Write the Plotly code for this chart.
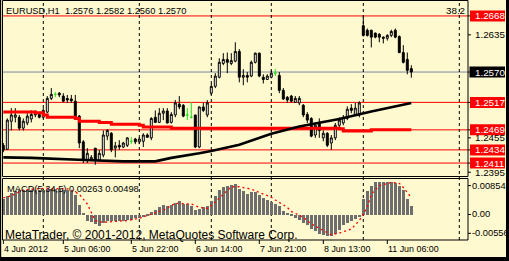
import plotly.graph_objects as go

W, H = 509, 261
BG = "#FFF9CF"
FONT = "Liberation Sans"

# ---------------- data ----------------
bars = list(range(103))
opens = [1.2442,1.2435,1.2484,1.2491,1.2491,1.2472,1.2481,1.2488,1.2495,1.2496,
         1.2491,1.2500,1.2524,1.2531,1.2533,1.2528,1.2524,1.2523,1.2519,1.2493,
         1.2448,1.2416,1.2416,1.2437,1.2416,1.2425,1.2458,1.2463,1.2437,1.2442,
         1.2439,1.2442,1.2449,1.2453,1.2448,1.2449,1.2460,1.2455,1.2491,1.2482,
         1.2498,1.2502,1.2482,1.2495,1.2514,1.2512,1.2495,1.2491,1.2495,1.2439,
         1.2509,1.2495,1.2533,1.2545,1.2561,1.2585,1.2592,1.2585,1.2589,1.2606,
         1.2561,1.2564,1.2563,1.2587,1.2603,1.2561,1.2557,1.2561,1.2568,1.2564,
         1.2538,1.2526,1.2528,1.2517,1.2516,1.2512,1.2496,1.2489,1.2460,1.2481,
         1.2455,1.2463,1.2446,1.2455,1.2477,1.2481,1.2489,1.2507,1.2495,1.2495,
         1.2651,1.2643,1.2643,1.2638,1.2636,1.2631,1.2629,1.2634,1.2643,1.2632,
         1.2604,1.2592,1.2576]
highs = [1.2446,1.2489,1.2507,1.2507,1.2495,1.2489,1.2498,1.2503,1.2503,1.2498,
         1.2507,1.2528,1.2542,1.2535,1.2535,1.2533,1.2530,1.2530,1.2530,1.2495,
         1.2451,1.2437,1.2425,1.2437,1.2434,1.2468,1.2470,1.2465,1.2448,1.2451,
         1.2448,1.2456,1.2456,1.2455,1.2456,1.2463,1.2463,1.2491,1.2503,1.2507,
         1.2507,1.2507,1.2500,1.2521,1.2528,1.2514,1.2507,1.2517,1.2495,1.2510,
         1.2516,1.2521,1.2550,1.2568,1.2594,1.2603,1.2604,1.2603,1.2622,1.2610,
         1.2575,1.2570,1.2590,1.2604,1.2604,1.2566,1.2566,1.2573,1.2575,1.2570,
         1.2542,1.2528,1.2530,1.2528,1.2528,1.2514,1.2500,1.2491,1.2482,1.2489,
         1.2468,1.2465,1.2460,1.2481,1.2491,1.2495,1.2510,1.2514,1.2516,1.2519,
         1.2669,1.2646,1.2644,1.2639,1.2638,1.2632,1.2636,1.2644,1.2646,1.2634,
         1.2617,1.2604,1.2582]
lows = [1.2430,1.2434,1.2468,1.2482,1.2468,1.2468,1.2477,1.2482,1.2491,1.2489,
        1.2489,1.2498,1.2521,1.2526,1.2526,1.2517,1.2516,1.2516,1.2489,1.2437,
        1.2411,1.2411,1.2415,1.2408,1.2413,1.2421,1.2451,1.2430,1.2421,1.2434,
        1.2437,1.2439,1.2444,1.2444,1.2444,1.2439,1.2455,1.2451,1.2481,1.2481,
        1.2486,1.2480,1.2480,1.2491,1.2505,1.2491,1.2486,1.2489,1.2437,1.2437,
        1.2500,1.2491,1.2530,1.2542,1.2559,1.2582,1.2568,1.2582,1.2587,1.2552,
        1.2547,1.2552,1.2561,1.2585,1.2561,1.2550,1.2556,1.2559,1.2563,1.2533,
        1.2521,1.2516,1.2517,1.2516,1.2512,1.2491,1.2481,1.2456,1.2455,1.2455,
        1.2449,1.2439,1.2434,1.2451,1.2474,1.2477,1.2486,1.2498,1.2493,1.2491,
        1.2632,1.2632,1.2613,1.2629,1.2622,1.2620,1.2625,1.2631,1.2629,1.2603,
        1.2585,1.2566,1.2560]
closes = [1.2434,1.2486,1.2495,1.2495,1.2472,1.2484,1.2493,1.2496,1.2498,1.2491,
          1.2503,1.2524,1.2531,1.2531,1.2530,1.2519,1.2521,1.2520,1.2491,1.2446,
          1.2416,1.2428,1.2421,1.2416,1.2428,1.2460,1.2468,1.2434,1.2441,1.2439,
          1.2446,1.2455,1.2449,1.2448,1.2453,1.2460,1.2456,1.2489,1.2482,1.2498,
          1.2502,1.2481,1.2496,1.2516,1.2509,1.2493,1.2495,1.2491,1.2439,1.2509,
          1.2503,1.2516,1.2545,1.2563,1.2587,1.2592,1.2587,1.2590,1.2606,1.2561,
          1.2564,1.2561,1.2587,1.2603,1.2563,1.2557,1.2563,1.2568,1.2568,1.2538,
          1.2523,1.2521,1.2519,1.2524,1.2524,1.2495,1.2486,1.2458,1.2477,1.2468,
          1.2463,1.2442,1.2455,1.2477,1.2486,1.2491,1.2505,1.2503,1.2507,1.2516,
          1.2634,1.2634,1.2631,1.2631,1.2631,1.2629,1.2634,1.2641,1.2631,1.2604,
          1.2587,1.2573,1.2570]
doji_bars = [13, 32, 46, 47, 68]

ma_red_x = [0, 8, 10, 11, 18, 19, 24, 27, 34, 35, 42, 84, 85, 91, 92, 102]
ma_red_y = [1.2500, 1.2499, 1.2495, 1.2491, 1.2489, 1.2484, 1.2482, 1.2479,
            1.2477, 1.2474, 1.2472, 1.2471, 1.2467, 1.2467, 1.2469, 1.2469]
ma_black_x = [0, 7, 22, 30, 38, 42, 49, 52, 59, 67, 74, 84, 92, 102]
ma_black_y = [1.2421, 1.2420, 1.2416, 1.2414, 1.2414, 1.2420, 1.2428, 1.2432,
              1.2443, 1.2462, 1.2475, 1.2488, 1.2501, 1.2516]

macd_hist = [0.0046,0.0055,0.0065,0.0072,0.0074,0.0075,0.0075,0.0075,0.0074,0.0074,
             0.0075,0.0076,0.0076,0.0076,0.0076,0.0075,0.0074,0.0068,0.0060,0.0029,
             0.0003,-0.0018,-0.0020,-0.0028,-0.0033,-0.0023,-0.0017,-0.0017,-0.0017,-0.0017,
             -0.0017,-0.0016,-0.0015,-0.0010,-0.0008,-0.0006,-0.0003,0.0009,0.0016,0.0023,
             0.0029,0.0027,0.0029,0.0036,0.0041,0.0033,0.0033,0.0026,0.0016,0.0018,
             0.0023,0.0026,0.0041,0.0055,0.0075,0.0082,0.0085,0.0088,0.0092,0.0078,
             0.0070,0.0062,0.0068,0.0068,0.0058,0.0051,0.0043,0.0039,0.0033,0.0026,
             0.0011,0.0003,-0.0003,-0.0008,-0.0016,-0.0023,-0.0030,-0.0040,-0.0048,-0.0055,
             -0.0059,-0.0062,-0.0062,-0.0055,-0.0045,-0.0030,-0.0024,-0.0018,-0.0013,-0.0006,
             0.0046,0.0070,0.0085,0.0098,0.0099,0.0098,0.0098,0.0098,0.0095,0.0085,
             0.0075,0.0046,0.0026]
signal_x = [0, 2, 5, 10, 16, 17, 19, 21, 22, 23, 25, 27, 31, 34, 37, 40, 43, 47, 49,
            51, 52, 55, 57, 59, 62, 64, 67, 68, 71, 72, 75, 77, 80, 82, 84, 87, 89,
            91, 92, 94, 97, 99, 100, 102]
signal_y = [0.0049, 0.0055, 0.0073, 0.0077, 0.0076, 0.0072, 0.0060, 0.0031, 0.0006,
            -0.0018, -0.0023, -0.0022, -0.0018, -0.0011, 0.0001, 0.0013, 0.0033, 0.0031,
            0.0021, 0.0018, 0.0026, 0.0060, 0.0082, 0.0082, 0.0075, 0.0065, 0.0051,
            0.0043, 0.0021, 0.0009, -0.0008, -0.0028, -0.0048, -0.0060, -0.0055,
            -0.0043, -0.0018, 0.0021, 0.0060, 0.0085, 0.0095, 0.0092, 0.0080, 0.0050]

red_levels = [1.2668, 1.2517, 1.2469, 1.2434, 1.2411]
red_level_text = ["1.2668", "1.2517", "1.2469", "1.2434", "1.2411"]
bid_level = 1.2570
bid_text = "1.2570"
price_ticks = [1.2635, 1.2455, 1.2395]
price_tick_text = ["1.2635", "1.2455", "1.2395"]
macd_ticks = [0.00854, 0.0, -0.00556]
macd_tick_text = ["0.00854", "0.00", "-0.00556"]
separators = [10, 34, 52, 67, 90, 114]
time_ticks = [0, 15, 32, 48, 64, 80, 96]
time_labels = ["4 Jun 2012", "5 Jun 06:00", "5 Jun 22:00", "6 Jun 14:00",
               "7 Jun 21:00", "8 Jun 13:00", "11 Jun 06:00"]
title_text = "EURUSD,H1\u00a0 1.2576 1.2582 1.2560 1.2570"
macd_label = "MACD(5,34,5) 0.00263 0.00498"
copyright_text = "MetaTrader, \u00a9 2001-2012, MetaQuotes Software Corp."
fib_text = "38.2"

# ---------------- layout geometry (pixels) ----------------
def px(x):
    return x / W

def py(y):
    return 1 - y / H

MAIN_TOP, MAIN_BOT = 0.5, 176.5
SUB_TOP, SUB_BOT = 178.5, 240.0
LEFT, RIGHT = 2.5, 468.0
P_TOP, P_BOT = 1.26950, 1.23875
P_PPU = (MAIN_BOT - MAIN_TOP) / (P_TOP - P_BOT)
M_TOP, M_BOT = 0.01064, -0.00754
X0 = (LEFT - 3.3) / 4
X1 = (RIGHT - 3.3) / 4

fig = go.Figure()

main_mask = [b not in doji_bars for b in bars]
fig.add_trace(go.Candlestick(
    x=[b for b, m in zip(bars, main_mask) if m],
    open=[v for v, m in zip(opens, main_mask) if m],
    high=[v for v, m in zip(highs, main_mask) if m],
    low=[v for v, m in zip(lows, main_mask) if m],
    close=[v for v, m in zip(closes, main_mask) if m],
    increasing=dict(line=dict(color="black", width=1), fillcolor="white"),
    decreasing=dict(line=dict(color="black", width=1), fillcolor="black"),
    whiskerwidth=0, showlegend=False, hoverinfo="skip", yaxis="y"))
fig.add_trace(go.Candlestick(
    x=doji_bars,
    open=[opens[b] for b in doji_bars],
    high=[highs[b] for b in doji_bars],
    low=[lows[b] for b in doji_bars],
    close=[closes[b] for b in doji_bars],
    increasing=dict(line=dict(color="#1EE01E", width=1), fillcolor="#1EE01E"),
    decreasing=dict(line=dict(color="#1EE01E", width=1), fillcolor="#1EE01E"),
    whiskerwidth=0, showlegend=False, hoverinfo="skip", yaxis="y"))

fig.add_trace(go.Scatter(x=ma_red_x, y=ma_red_y, mode="lines",
                         line=dict(color="#FF0000", width=3, shape="hv"),
                         showlegend=False, hoverinfo="skip", yaxis="y"))
fig.add_trace(go.Scatter(x=ma_black_x, y=ma_black_y, mode="lines",
                         line=dict(color="black", width=2.6),
                         showlegend=False, hoverinfo="skip", yaxis="y"))

fig.add_trace(go.Bar(x=bars, y=macd_hist, width=0.75,
                     marker=dict(color="#6E6E6E", line=dict(width=0)),
                     showlegend=False, hoverinfo="skip", yaxis="y2"))
fig.add_trace(go.Scatter(x=signal_x, y=signal_y, mode="lines",
                         line=dict(color="#FF0000", width=1.3, dash="2px,3px"),
                         showlegend=False, hoverinfo="skip", yaxis="y2"))

shapes = []
for lv in red_levels:
    shapes.append(dict(type="line", xref="paper", yref="y", x0=px(LEFT), x1=px(RIGHT),
                       y0=lv, y1=lv, line=dict(color="#FF0000", width=1), layer="below"))
shapes.append(dict(type="line", xref="paper", yref="y", x0=px(LEFT), x1=px(RIGHT),
                   y0=bid_level, y1=bid_level, line=dict(color="#7A8AA0", width=1), layer="below"))
for s in separators:
    shapes.append(dict(type="line", xref="x", yref="paper", x0=s, x1=s,
                       y0=py(SUB_BOT), y1=py(MAIN_TOP),
                       line=dict(color="black", width=1, dash="3px,3px"), layer="below"))
for (t, b) in [(MAIN_TOP, MAIN_BOT), (SUB_TOP, SUB_BOT)]:
    shapes.append(dict(type="rect", xref="paper", yref="paper", x0=px(LEFT), x1=px(RIGHT),
                       y0=py(b), y1=py(t), line=dict(color="black", width=1)))
for lv in price_ticks + red_levels + [bid_level]:
    shapes.append(dict(type="line", xref="paper", yref="y", x0=px(RIGHT), x1=px(RIGHT + 3),
                       y0=lv, y1=lv, line=dict(color="black", width=1)))
for lv in macd_ticks:
    shapes.append(dict(type="line", xref="paper", yref="y2", x0=px(RIGHT), x1=px(RIGHT + 3),
                       y0=lv, y1=lv, line=dict(color="black", width=1)))
for t in time_ticks:
    shapes.append(dict(type="line", xref="x", yref="paper", x0=t, x1=t,
                       y0=py(SUB_BOT + 4), y1=py(SUB_BOT), line=dict(color="black", width=1)))
half = 5.5 / P_PPU
for lv in red_levels:
    shapes.append(dict(type="rect", xref="paper", yref="y", x0=px(470), x1=px(505),
                       y0=lv - half, y1=lv + half, fillcolor="#FF0000", line=dict(width=0)))
shapes.append(dict(type="rect", xref="paper", yref="y", x0=px(469.5), x1=px(505),
                   y0=bid_level - half, y1=bid_level + half, fillcolor="black",
                   line=dict(width=0)))
shapes.append(dict(type="rect", xref="paper", yref="paper", x0=0, x1=px(1.2), y0=0, y1=1,
                   fillcolor="black", line=dict(width=0)))
shapes.append(dict(type="rect", xref="paper", yref="paper", x0=px(506), x1=1, y0=0, y1=1,
                   fillcolor="black", line=dict(width=0)))
shapes.append(dict(type="rect", xref="paper", yref="paper", x0=0, x1=1, y0=0, y1=py(257),
                   fillcolor="black", line=dict(width=0)))

def fnt(size, color="black"):
    return dict(family=FONT, size=size, color=color)

ann = []
for lv, tx in zip(red_levels, red_level_text):
    ann.append(dict(xref="paper", yref="y", x=px(472.5), y=lv, text=tx, showarrow=False,
                    xanchor="left", yanchor="middle", font=fnt(9.8, "white")))
ann.append(dict(xref="paper", yref="y", x=px(472.5), y=bid_level, text=bid_text,
                showarrow=False, xanchor="left", yanchor="middle", font=fnt(9.8, "white")))
for lv, tx in zip(price_ticks, price_tick_text):
    ann.append(dict(xref="paper", yref="y", x=px(472.5), y=lv, text=tx, showarrow=False,
                    xanchor="left", yanchor="middle", font=fnt(9.8)))
for lv, tx in zip(macd_ticks, macd_tick_text):
    ann.append(dict(xref="paper", yref="y2", x=px(469.5), y=lv, text=tx, showarrow=False,
                    xanchor="left", yanchor="middle", font=fnt(9.3)))
for t, tx in zip(time_ticks, time_labels):
    ann.append(dict(xref="x", yref="paper", x=t, y=py(248.5), text=tx, showarrow=False,
                    xanchor="left", yanchor="middle", xshift=-1, font=fnt(8.9)))
ann.append(dict(xref="paper", yref="paper", x=px(4), y=py(10.5), text=title_text,
                showarrow=False, xanchor="left", yanchor="middle", font=fnt(9.3)))
ann.append(dict(xref="paper", yref="paper", x=px(467), y=py(10.5), text=fib_text,
                showarrow=False, xanchor="right", yanchor="middle", font=fnt(9.8)))
ann.append(dict(xref="paper", yref="paper", x=px(5), y=py(188.5), text=macd_label,
                showarrow=False, xanchor="left", yanchor="middle", font=fnt(9.3)))
ann.append(dict(xref="paper", yref="paper", x=px(3), y=py(235), text=copyright_text,
                showarrow=False, xanchor="left", yanchor="middle", font=fnt(12)))

fig.update_layout(
    width=W, height=H, autosize=False,
    margin=dict(l=0, r=0, t=0, b=0, pad=0),
    paper_bgcolor=BG, plot_bgcolor=BG,
    showlegend=False, bargap=0,
    xaxis=dict(domain=[px(LEFT), px(RIGHT)], range=[X0, X1], showticklabels=False,
               showgrid=False, zeroline=False, showline=False, ticks="",
               rangeslider=dict(visible=False), anchor="y2"),
    yaxis=dict(domain=[py(MAIN_BOT), py(MAIN_TOP)], range=[P_BOT, P_TOP],
               showticklabels=False, showgrid=False, zeroline=False, ticks=""),
    yaxis2=dict(domain=[py(SUB_BOT), py(SUB_TOP)], range=[M_BOT, M_TOP],
                showticklabels=False, showgrid=False, zeroline=False, ticks=""),
    shapes=shapes, annotations=ann,
)

fig.write_html("out.html")
